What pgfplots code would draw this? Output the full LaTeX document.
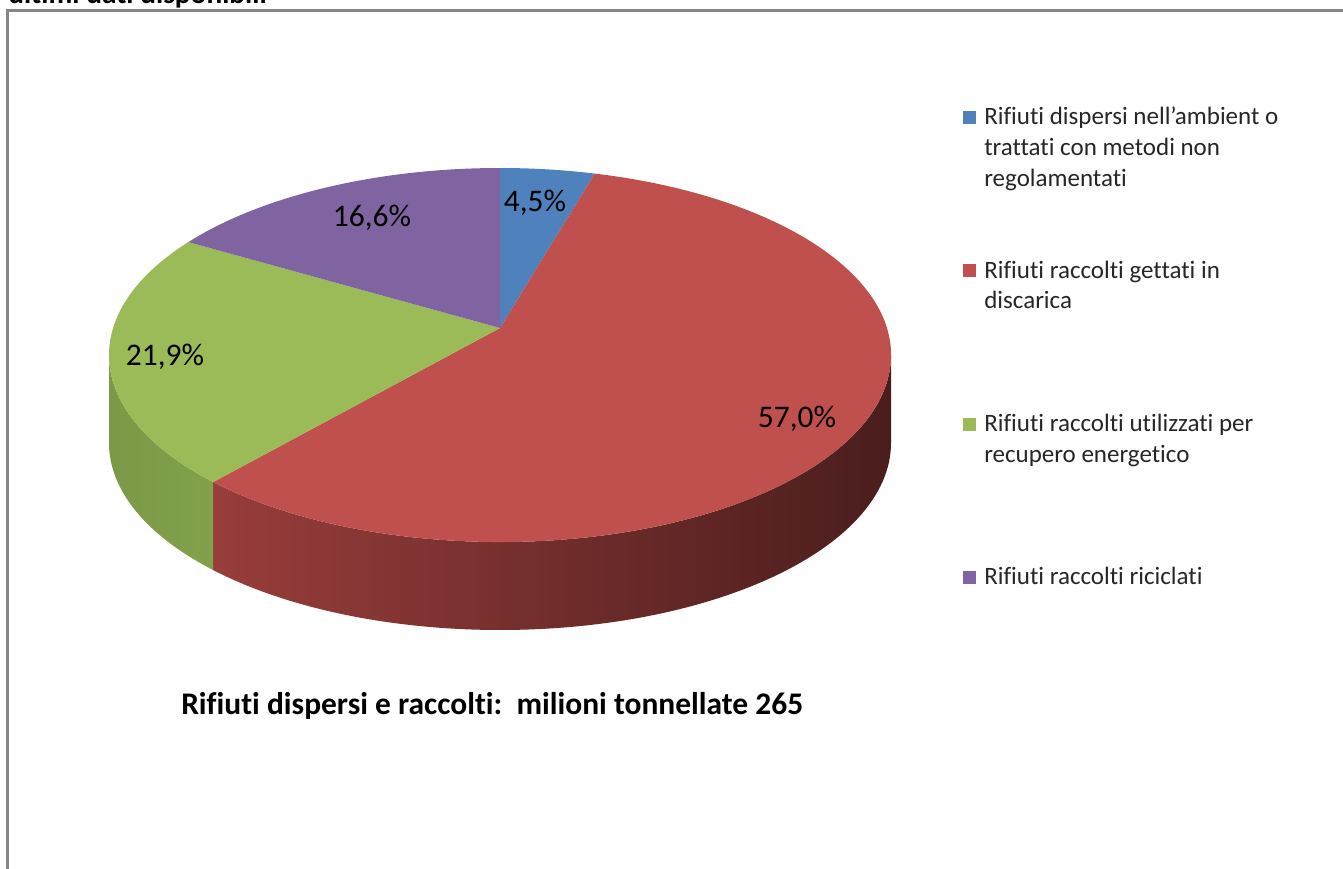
\documentclass[border=0pt]{standalone}
\usepackage{pgfplots}
\pgfplotsset{compat=1.18}
\usepackage{fontspec}
\setmainfont{Carlito}[Ligatures=NoCommon]

\definecolor{cBlue}{HTML}{4F81BD}
\definecolor{cRed}{HTML}{C0504D}
\definecolor{cGreen}{HTML}{9BBB59}
\definecolor{cPurple}{HTML}{8064A2}
\definecolor{cRedL}{HTML}{983D3B}
\definecolor{cRedM}{HTML}{6E2A29}
\definecolor{cRedD}{HTML}{4A1D1D}
\definecolor{cGreenL}{HTML}{7B9946}
\definecolor{cGreenR}{HTML}{82A14B}
\definecolor{frameGray}{HTML}{868686}

% shares in percent (clockwise from 12 o'clock)
\def\vBlue{4.5}
\def\vRed{57.0}
\def\vGreen{21.9}
\def\vPurple{16.6}

% pie geometry (1 px = 0.75pt): rx 293.25pt, ry 140.25pt, depth 66pt
\tikzset{ell/.style={x radius=293.25pt, y radius=140.25pt}}
% perspective: true angle -> angle on the drawn ellipse
\def\kp{0.144}
\newcommand\persp[2]{%
  \pgfmathsetmacro#1{atan2(sin(#2)+\kp, sqrt(1-\kp*\kp)*cos(#2))}%
  \pgfmathsetmacro#1{#1+360*round((#2-#1)/360)}}

\begin{document}
\begin{tikzpicture}
\begin{axis}[
  width=1007.25pt, height=651pt, scale only axis,
  xmin=0, xmax=1343, ymin=0, ymax=868, y dir=reverse,
  hide axis, clip=false,
]
\pgfplotsextra{
  \pgfmathsetmacro\tA{90}
  \pgfmathsetmacro\tB{\tA-3.6*\vBlue}
  \pgfmathsetmacro\tC{\tB-3.6*\vRed}
  \pgfmathsetmacro\tD{\tC-3.6*\vGreen}
  \pgfmathsetmacro\tE{\tD-3.6*\vPurple}
  \persp\aA\tA \persp\aB\tB \persp\aC\tC \persp\aD\tD \persp\aE\tE
  \coordinate (C) at (axis cs:500,355);
  \coordinate (A) at (axis cs:500,328);
  \path (C) ++(0:293.25pt and 140.25pt) coordinate (s0);
  \path (C) ++(\aA:293.25pt and 140.25pt) coordinate (pA);
  \path (C) ++(\aB:293.25pt and 140.25pt) coordinate (pB);
  \path (C) ++(\aC:293.25pt and 140.25pt) coordinate (pC);
  \path (C) ++(\aD:293.25pt and 140.25pt) coordinate (pD);
  % side walls, front half
  \shade[left color=cRedL, middle color=cRedM, right color=cRedD]
    (s0) arc[start angle=0, end angle=\aC, ell]
    -- ++(0pt,-66pt)
    arc[start angle=\aC, end angle=0, ell] -- cycle;
  \shade[left color=cGreenL, right color=cGreenR]
    (pC) arc[start angle=\aC, end angle=-180, ell]
    -- ++(0pt,-66pt)
    arc[start angle=-180, end angle=\aC, ell] -- cycle;
  % top faces
  \fill[cBlue] (A) -- (pA) arc[start angle=\aA, end angle=\aB, ell] -- cycle;
  \fill[cRed] (A) -- (pB) arc[start angle=\aB, end angle=\aC, ell] -- cycle;
  \fill[cGreen] (A) -- (pC) arc[start angle=\aC, end angle=\aD, ell] -- cycle;
  \fill[cPurple] (A) -- (pD) arc[start angle=\aD, end angle=\aE, ell] -- cycle;
}

% data labels
\begin{scope}[every node/.style={inner sep=0pt, anchor=base, font=\fontsize{23.6pt}{28pt}\selectfont}]
\node at (axis cs:535,211) {4,5\%};
\node at (axis cs:797,427) {57,0\%};
\node at (axis cs:165,365) {21,9\%};
\node at (axis cs:372,226) {16,6\%};
\end{scope}

% legend
\begin{scope}[every node/.style={inner sep=0pt, anchor=base west, font=\fontsize{18.75pt}{23pt}\selectfont, text=black!85}]
\fill[cBlue] (axis cs:963,111) rectangle (axis cs:976,124);
\node at (axis cs:984,124) {Rifiuti dispersi nell’ambient o};
\node at (axis cs:984,155) {trattati con metodi non};
\node at (axis cs:984,186) {regolamentati};
\fill[cRed] (axis cs:963,264) rectangle (axis cs:976,277);
\node at (axis cs:984,278) {Rifiuti raccolti gettati in};
\node at (axis cs:984,308) {discarica};
\fill[cGreen] (axis cs:963,418) rectangle (axis cs:976,431);
\node at (axis cs:984,431) {Rifiuti raccolti utilizzati per};
\node at (axis cs:984,462) {recupero energetico};
\fill[cPurple] (axis cs:963,571) rectangle (axis cs:976,584);
\node at (axis cs:984,584) {Rifiuti raccolti riciclati};
\end{scope}

% chart title
\node[inner sep=0pt, anchor=base west, font=\bfseries\fontsize{23.6pt}{28pt}\selectfont]
  at (axis cs:181,714) {Rifiuti dispersi e raccolti:\ \ milioni tonnellate 265};

% frame and cut-off heading above it
\draw[frameGray, line width=1.9pt] (axis cs:7.5,890) |- (axis cs:1370,10.5);
\node[inner sep=0pt, anchor=base west, font=\bfseries\fontsize{22pt}{26pt}\selectfont]
  at (axis cs:8,3) {ultimi dati disponibili};
\end{axis}
\pgfresetboundingbox
\useasboundingbox (current axis.south west) rectangle (current axis.north east);
\end{tikzpicture}
\end{document}
